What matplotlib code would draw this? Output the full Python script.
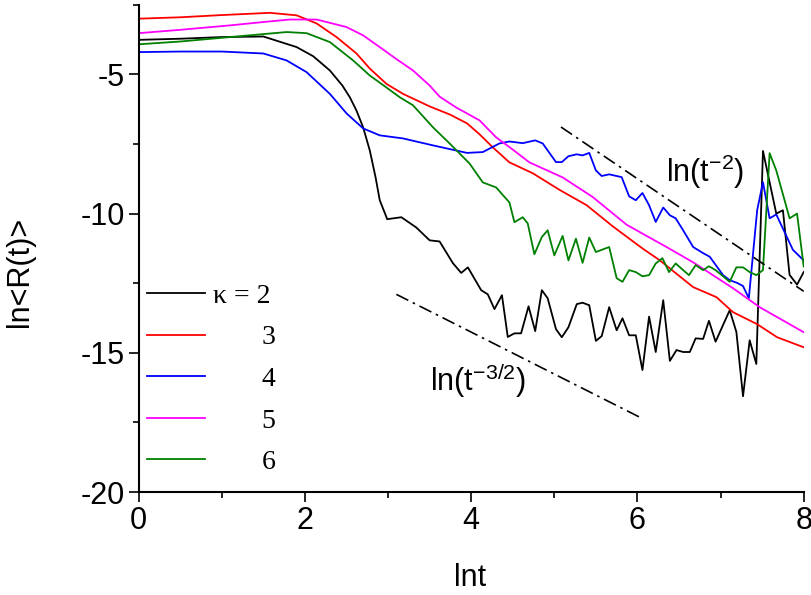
import matplotlib
matplotlib.use("Agg")
import matplotlib.pyplot as plt
from matplotlib.ticker import MultipleLocator

plt.rcParams['font.family'] = ['Liberation Sans', 'DejaVu Sans']
plt.rcParams['mathtext.default'] = 'regular'
plt.rcParams['axes.unicode_minus'] = False

# kappa = 2
x_k2 = [0, 0.5, 1.0, 1.5, 1.9, 2.1, 2.3, 2.45, 2.54, 2.62, 2.7, 2.78, 2.85, 2.9, 2.99,
        3.16, 3.34, 3.5, 3.62, 3.78, 3.88, 3.96, 4.12, 4.2, 4.28, 4.37, 4.44, 4.52, 4.6,
        4.69, 4.77, 4.85, 4.92, 5.02, 5.09, 5.17, 5.27, 5.34, 5.42, 5.5, 5.57, 5.66, 5.75,
        5.82, 5.9, 5.98, 6.06, 6.14, 6.22, 6.31, 6.39, 6.47, 6.55, 6.63, 6.7, 6.79, 6.86,
        6.94, 7.03, 7.11, 7.19, 7.27, 7.35, 7.43, 7.51, 7.67, 7.75, 7.83, 7.92, 8.0]
y_k2 = [-3.76, -3.72, -3.66, -3.64, -4.02, -4.35, -4.86, -5.4, -5.82, -6.3, -6.9, -7.73,
        -8.7, -9.52, -10.2, -10.13, -10.5, -10.96, -11.0, -11.78, -12.13, -11.93, -12.75,
        -12.9, -13.43, -12.93, -14.43, -14.3, -14.3, -13.33, -14.22, -12.75, -13.04, -14.15,
        -14.44, -14.08, -13.25, -13.2, -13.29, -14.57, -14.4, -13.36, -14.19, -13.76, -14.37,
        -14.37, -15.62, -13.7, -14.97, -13.11, -15.29, -14.9, -14.97, -14.97, -14.48, -14.5,
        -13.85, -14.6, -14.0, -13.47, -14.25, -16.56, -14.55, -15.4, -7.75, -10.0, -9.88,
        -12.2, -12.55, -12.1]

# kappa = 3
x_k3 = [0, 0.5, 1.0, 1.58, 1.9, 2.14, 2.38, 2.62, 2.78, 2.98, 3.18, 3.5, 3.75, 3.95, 4.1,
        4.26, 4.46, 4.74, 5.07, 5.39, 5.7, 6.06, 6.27, 6.67, 6.95, 7.15, 7.44, 7.68, 8.0]
y_k3 = [-3.0, -2.95, -2.87, -2.79, -2.88, -3.17, -3.66, -4.25, -4.79, -5.34, -5.7, -6.15,
        -6.45, -6.76, -7.15, -7.62, -8.16, -8.55, -9.16, -9.7, -10.45, -11.25, -11.68,
        -12.64, -13.0, -13.54, -13.97, -14.44, -14.8]

# kappa = 4
x_k4 = [0, 0.5, 1.0, 1.5, 1.78, 2.02, 2.3, 2.5, 2.7, 2.9, 3.18, 3.54, 3.95, 4.14, 4.34,
        4.46, 4.62, 4.77, 4.86, 5.02, 5.09, 5.17, 5.27, 5.34, 5.42, 5.5, 5.57, 5.66, 5.81,
        5.9, 5.98, 6.06, 6.14, 6.22, 6.31, 6.39, 6.46, 6.55, 6.67, 6.79, 6.87, 7.03, 7.11,
        7.2, 7.27, 7.34, 7.44, 7.51, 7.59, 7.67, 7.87, 8.0]
y_k4 = [-4.2, -4.18, -4.18, -4.25, -4.5, -4.92, -5.7, -6.4, -6.94, -7.19, -7.3, -7.55,
        -7.82, -7.79, -7.48, -7.41, -7.47, -7.37, -7.48, -8.15, -8.15, -7.94, -7.87, -7.91,
        -7.82, -8.45, -8.65, -8.59, -8.69, -9.38, -9.52, -9.26, -9.7, -10.3, -9.78, -10.06,
        -10.17, -10.6, -11.2, -11.42, -11.55, -12.21, -12.39, -12.49, -12.6, -13.04, -9.88,
        -8.87, -10.17, -10.03, -11.3, -11.68]

# kappa = 5
x_k5 = [0, 0.5, 1.1, 1.5, 1.82, 2.14, 2.5, 2.7, 2.9, 3.1, 3.3, 3.5, 3.62, 3.82, 4.1, 4.3,
        4.5, 4.7, 5.1, 5.46, 5.87, 6.35, 6.67, 7.15, 7.47, 8.0]
y_k5 = [-3.52, -3.4, -3.24, -3.12, -3.03, -3.03, -3.3, -3.6, -4.02, -4.45, -4.86, -5.4,
        -5.8, -6.19, -6.65, -7.26, -7.7, -8.16, -8.7, -9.4, -10.4, -11.2, -11.75, -12.68,
        -13.36, -14.26]

# kappa = 6
x_k6 = [0, 0.5, 1.1, 1.78, 2.02, 2.3, 2.58, 2.78, 2.98, 3.14, 3.3, 3.54, 3.74, 3.98, 4.14,
        4.3, 4.46, 4.52, 4.62, 4.68, 4.76, 4.85, 4.92, 5.0, 5.1, 5.17, 5.26, 5.34, 5.42, 5.5,
        5.66, 5.75, 5.82, 5.9, 5.98, 6.06, 6.14, 6.22, 6.3, 6.38, 6.46, 6.55, 6.62, 6.7,
        6.79, 6.86, 6.94, 7.03, 7.11, 7.19, 7.27, 7.35, 7.43, 7.51, 7.59, 7.67, 7.77, 7.83,
        7.92, 8.0]
y_k6 = [-3.92, -3.82, -3.66, -3.48, -3.52, -3.84, -4.5, -5.04, -5.47, -5.82, -6.11, -6.9,
        -7.48, -8.2, -8.88, -9.06, -9.6, -10.31, -10.13, -10.35, -11.46, -10.84, -10.6,
        -11.5, -10.8, -11.68, -10.9, -11.77, -10.86, -11.38, -11.2, -12.32, -12.45, -12.03,
        -12.1, -12.25, -12.21, -11.79, -11.6, -12.1, -11.79, -12.03, -12.21, -11.85, -12.03,
        -11.89, -12.03, -12.25, -12.45, -11.93, -11.93, -12.1, -12.21, -12.03, -7.83, -8.45,
        -9.52, -10.17, -10.0, -11.9]

# guide lines ln(t^-2) and ln(t^-3/2)
x_ref2 = [5.08, 8.0]
y_ref2 = [-6.89, -12.79]
x_ref15 = [3.1, 6.02]
y_ref15 = [-12.9, -17.3]

series = [(x_k2, y_k2, 'black', '\u03ba = 2'),
          (x_k3, y_k3, 'red', '       3'),
          (x_k4, y_k4, 'blue', '       4'),
          (x_k5, y_k5, 'magenta', '       5'),
          (x_k6, y_k6, 'green', '       6')]

fig = plt.figure(figsize=(8.11, 5.95), dpi=100)
ax = fig.add_axes([0.171, 0.173, 0.820, 0.819])

for xs, ys, c, lab in series:
    ax.plot(xs, ys, color=c, lw=1.3, label=lab)

dashdot = (0, (8, 3, 1.5, 3))
ax.plot(x_ref2, y_ref2, color='black', lw=1.2, ls=dashdot)
ax.plot(x_ref15, y_ref15, color='black', lw=1.2, ls=dashdot)

ax.text(6.82, -8.5, 'ln(t$^{-2}$)', fontsize=22, ha='center', va='center')
ax.text(4.08, -16.0, 'ln(t$^{-3/2}$)', fontsize=22, ha='center', va='center')

ax.set_xlim(0, 8)
ax.set_ylim(-20, -2.5)
ax.xaxis.set_major_locator(MultipleLocator(2))
ax.xaxis.set_minor_locator(MultipleLocator(1))
ax.yaxis.set_major_locator(MultipleLocator(5))
ax.yaxis.set_minor_locator(MultipleLocator(2.5))
ax.tick_params(which='major', direction='out', length=7, width=1.2, labelsize=22, pad=3)
ax.tick_params(which='minor', direction='out', length=4, width=1.2)

for s in ['top', 'right']:
    ax.spines[s].set_visible(False)
for s in ['left', 'bottom']:
    ax.spines[s].set_linewidth(1.5)

ax.set_xlabel('lnt', fontsize=22)
ax.set_ylabel('ln<R(t)>', fontsize=22)
ax.xaxis.set_label_coords(0.498, -0.146)
ax.yaxis.set_label_coords(-0.156, 0.452)

ax.legend(loc='upper left', bbox_to_anchor=(0.012, 0.428), frameon=False,
          prop={'family': 'Liberation Serif', 'size': 20}, handlelength=2.1,
          handletextpad=0.3, labelspacing=0.58, borderpad=0, borderaxespad=0)

fig.savefig('out.png', dpi=100)
